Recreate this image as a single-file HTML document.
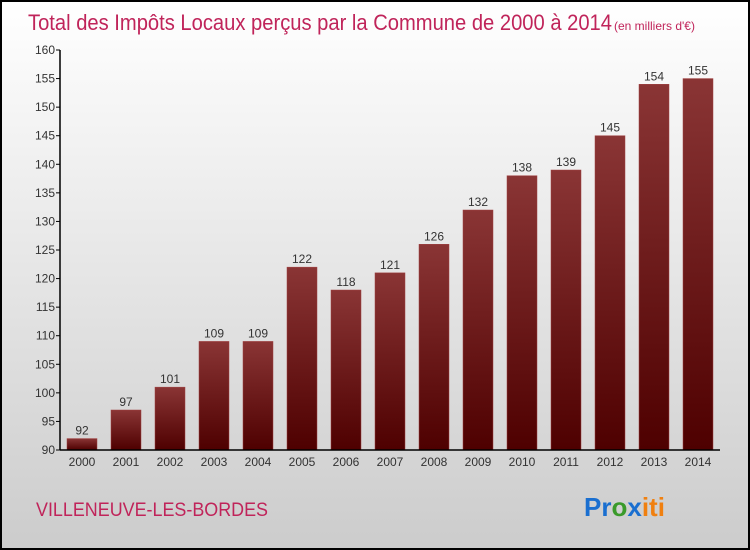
<!DOCTYPE html>
<html><head><meta charset="utf-8"><style>
body{margin:0}
#c{width:750px;height:550px;position:relative;box-sizing:border-box;border:2px solid #000;background:linear-gradient(#fff,#ccc);font-family:"Liberation Sans",sans-serif;overflow:hidden}
</style></head><body>
<div id="c">
<svg width="746" height="546" style="position:absolute;left:0;top:0" id="s">
<defs><linearGradient id="g" x1="0" y1="0" x2="0" y2="1"><stop offset="0" stop-color="#8a3535"/><stop offset="1" stop-color="#4e0000"/></linearGradient></defs>
<text x="26" y="28" font-size="22" fill="#c0245a" textLength="584" lengthAdjust="spacingAndGlyphs">Total des Impôts Locaux perçus par la Commune de 2000 à 2014</text>
<text x="612" y="28" font-size="12" fill="#c0245a">(en milliers d'€)</text>
<text x="34" y="514" font-size="19" fill="#c0245a" textLength="232" lengthAdjust="spacingAndGlyphs">VILLENEUVE-LES-BORDES</text>
<g font-size="26" font-weight="bold" font-family="Liberation Sans,sans-serif">
<text x="582" y="514"><tspan fill="#1a6fd0">Pr</tspan><tspan fill="#3a9a2a">o</tspan><tspan fill="#1a6fd0">x</tspan><tspan fill="#f08010">iti</tspan></text></g>
<g id="plot"></g>
</svg>
</div>
<script>
const years=["2000","2001","2002","2003","2004","2005","2006","2007","2008","2009","2010","2011","2012","2013","2014"];
const values=[92,97,101,109,109,122,118,121,126,132,138,139,145,154,155];
const yTicks=[90,95,100,105,110,115,120,125,130,135,140,145,150,155,160];
const ns="http://www.w3.org/2000/svg";
const ox=-2,oy=-2;
const X0=60+ox,X1=720+ox,Y0=450+oy,Y1=50+oy,vmin=90,vmax=160;
const y=v=>Y0-(v-vmin)/(vmax-vmin)*(Y0-Y1);
const step=(X1-X0)/years.length;
const xc=i=>X0+step*(i+0.5);
const p=document.getElementById('plot');
function mk(t,a,txt){const e=document.createElementNS(ns,t);for(const k in a)e.setAttribute(k,a[k]);if(txt!=null)e.textContent=txt;p.appendChild(e);return e;}
values.forEach((v,i)=>{
 const r=mk('rect',{x:xc(i)-15,y:y(v),width:30,height:Y0-y(v),fill:'url(#g)',stroke:'#a04040','stroke-width':0.5});
 
 
 const t=mk('text',{x:xc(i),y:y(v)-4,'text-anchor':'middle','font-size':12,fill:'#333'},v);
 
 
 const xl=mk('text',{x:xc(i),y:Y0+16,'text-anchor':'middle','font-size':12,fill:'#333'},years[i]);
 
 
});
yTicks.forEach(v=>{
 const l=mk('line',{x1:X0-4,x2:X0,y1:y(v),y2:y(v),stroke:'#000'});
 
 
 const t=mk('text',{x:X0-5,y:y(v)+4,'text-anchor':'end','font-size':12,fill:'#333'},v);
 
 
});
const ya=mk('line',{x1:X0,x2:X0,y1:Y1,y2:Y0,stroke:'#000','stroke-width':1.5});


const xa=mk('line',{x1:X0,x2:X1,y1:Y0,y2:Y0,stroke:'#000','stroke-width':1.5});


</script>
</body></html>
